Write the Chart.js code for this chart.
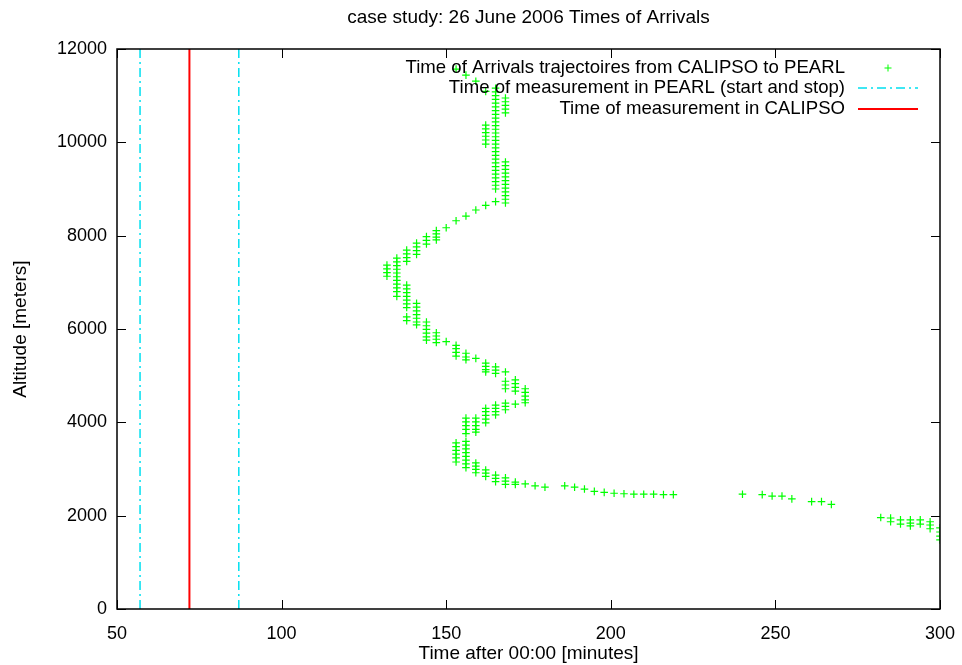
<!DOCTYPE html>
<html>
<head>
<meta charset="utf-8">
<script src="https://cdn.jsdelivr.net/npm/chart.js@4/dist/chart.umd.min.js"></script>
<style>
  html, body { margin: 0; padding: 0; background: #ffffff; overflow: hidden; }
  #wrap { width: 962px; height: 665px; }
</style>
</head>
<body>
<div id="wrap"><canvas id="c" width="962" height="665"></canvas></div>
<script>
// Text
const chartTitle = 'case study: 26 June 2006 Times of Arrivals';
const xAxisTitle = 'Time after 00:00 [minutes]';
const yAxisTitle = 'Altitude [meters]';
const seriesLabels = [
  'Time of Arrivals trajectoires from CALIPSO to PEARL',
  'Time of measurement in PEARL (start and stop)',
  'Time of measurement in CALIPSO'
];

// Axis ticks
const xTicks = [50, 100, 150, 200, 250, 300];
const yTicks = [0, 2000, 4000, 6000, 8000, 10000, 12000];

// Measurement times [minutes after 00:00]
const pearlStartStop = [57, 87];
const calipsoTime = 72;

// Arrival time of each trajectory group [minutes] and the altitudes [m] arriving then
const arrivalTimes = [
  153, 156, 159, 162, 165, 168, 162, 168, 162, 159, 156, 153, 150,
  147, 144, 141, 138, 135, 132, 138, 141, 138, 144, 147, 150, 153, 156, 159,
  162, 165, 168, 168, 171, 174, 171, 168, 165, 162, 159, 156, 156, 153,
  159, 162, 165, 168, 171, 174, 177, 180,
  186, 189, 192, 195, 198, 201, 204, 207, 210, 213, 216, 219,
  240, 246, 249, 252, 255, 261, 264, 267,
  282, 285, 288, 291, 294, 297, 300
];
const arrivalAltitudes = [
  [11570], [11440], [11310], [11090],
  [11160, 11080, 11000, 10920, 10840, 10760, 10680, 10600, 10520, 10440, 10360, 10280, 10200,
   10120, 10040, 9960, 9880, 9800, 9720, 9640, 9560, 9480, 9400, 9320, 9240, 9160, 9080, 9000, 8730],
  [10950, 10870, 10790, 10710, 10630],
  [10370, 10290, 10210, 10130, 10050, 9960],
  [9580, 9500, 9420, 9340, 9260, 9180, 9100, 9020, 8940, 8860, 8780, 8700],
  [8650], [8550], [8420], [8320], [8170],
  [8110, 8040, 7970, 7910],
  [7980, 7900, 7820],
  [7840, 7760, 7680, 7600],
  [7690, 7610, 7530, 7450],
  [7520, 7440, 7360, 7280, 7200, 7120, 7040, 6960, 6880, 6800, 6700],
  [7370, 7290, 7210, 7130],
  [6940, 6860, 6780, 6700, 6620, 6540, 6460],
  [6550, 6470, 6390, 6310, 6230, 6150, 6090],
  [6260, 6180],
  [6150, 6070, 5990, 5910, 5830, 5760],
  [5920, 5850, 5780, 5710],
  [5730],
  [5650, 5580, 5500, 5420],
  [5480, 5400, 5340],
  [5370],
  [5270, 5200, 5130, 5080],
  [5190, 5120, 5050],
  [5080],
  [4880, 4800, 4720],
  [4910, 4830, 4750, 4670],
  [4720, 4640, 4560, 4480, 4420],
  [4390],
  [4410, 4340, 4270],
  [4370, 4300, 4230, 4160],
  [4300, 4230, 4150, 4070, 3990],
  [4090, 4010, 3930, 3850, 3790],
  [4090, 4010, 3930, 3850, 3760],
  [3590, 3510, 3430, 3350, 3270, 3190, 3110, 3030],
  [3560, 3480, 3400, 3320, 3240, 3150],
  [3130, 3060, 2990, 2920],
  [2980, 2910, 2840],
  [2870, 2800, 2730],
  [2810, 2740, 2670],
  [2720, 2670],
  [2680], [2640], [2610],
  [2640], [2610], [2570], [2520], [2500], [2480], [2470], [2460], [2460], [2460], [2450], [2450],
  [2460], [2450], [2420], [2420], [2360], [2300], [2300], [2240],
  [1960],
  [1950, 1870],
  [1910, 1820],
  [1910, 1840, 1780],
  [1910, 1820],
  [1870, 1800, 1720],
  [1740, 1650, 1560, 1480]
];

// Colours
const arrivalColor = '#00ff00';
const pearlColor = '#00e0f0';
const calipsoColor = '#ff0000';
const pearlDash = [9, 4, 2, 4];

const FONT = 'Liberation Sans, Arial, Helvetica, sans-serif';
const TICK_SIZE = 18;
const TEXT_SIZE = 19;
const KEY_SIZE = 18.6;

const arrivalPoints = [];
arrivalTimes.forEach((t, i) => {
  arrivalAltitudes[i].forEach(a => arrivalPoints.push({ x: t, y: a }));
});

function verticalLine(x) {
  return [{ x: x, y: yTicks[0] }, { x: x, y: yTicks[yTicks.length - 1] }];
}

// Frame, inward ticks on all four sides, title and key, in the gnuplot manner
const framePlugin = {
  id: 'frame',
  afterDraw(chart) {
    const { ctx, chartArea: a, scales } = chart;
    const tick = 9;
    ctx.save();
    ctx.strokeStyle = '#000000';
    ctx.lineWidth = 1;
    ctx.beginPath();
    xTicks.forEach(v => {
      const px = Math.round(scales.x.getPixelForValue(v)) + 0.5;
      ctx.moveTo(px, a.bottom); ctx.lineTo(px, a.bottom - tick);
      ctx.moveTo(px, a.top); ctx.lineTo(px, a.top + tick);
    });
    yTicks.forEach(v => {
      const py = Math.round(scales.y.getPixelForValue(v)) + 0.5;
      ctx.moveTo(a.left, py); ctx.lineTo(a.left + tick, py);
      ctx.moveTo(a.right, py); ctx.lineTo(a.right - tick, py);
    });
    ctx.stroke();
    ctx.lineWidth = 1.5;
    ctx.strokeRect(a.left, a.top, a.right - a.left, a.bottom - a.top);

    // title
    ctx.fillStyle = '#000000';
    ctx.font = TEXT_SIZE + 'px ' + FONT;
    ctx.textAlign = 'center';
    ctx.textBaseline = 'middle';
    ctx.fillText(chartTitle, (a.left + a.right) / 2, 18);

    // key
    ctx.font = KEY_SIZE + 'px ' + FONT;
    const textRight = 845;
    const sampleL = 858, sampleR = 918;
    const rows = [68, 88, 109];
    ctx.textAlign = 'right';
    rows.forEach((y, i) => ctx.fillText(seriesLabels[i], textRight, y));

    ctx.strokeStyle = arrivalColor;
    ctx.lineWidth = 1;
    ctx.beginPath();
    const cx = (sampleL + sampleR) / 2, r = 3.5;
    ctx.moveTo(cx - r, rows[0]); ctx.lineTo(cx + r, rows[0]);
    ctx.moveTo(cx, rows[0] - r); ctx.lineTo(cx, rows[0] + r);
    ctx.stroke();

    ctx.strokeStyle = pearlColor;
    ctx.lineWidth = 1.5;
    ctx.setLineDash(pearlDash);
    ctx.beginPath();
    ctx.moveTo(sampleL, rows[1]); ctx.lineTo(sampleR, rows[1]);
    ctx.stroke();
    ctx.setLineDash([]);

    ctx.strokeStyle = calipsoColor;
    ctx.lineWidth = 2;
    ctx.beginPath();
    ctx.moveTo(sampleL, rows[2]); ctx.lineTo(sampleR, rows[2]);
    ctx.stroke();
    ctx.restore();
  }
};

new Chart(document.getElementById('c'), {
  type: 'scatter',
  data: {
    datasets: [
      {
        label: seriesLabels[0],
        data: arrivalPoints,
        pointStyle: 'cross',
        pointRadius: 3.8,
        pointBorderWidth: 1.2,
        borderColor: arrivalColor,
        backgroundColor: arrivalColor,
        showLine: false
      },
      {
        label: seriesLabels[1],
        type: 'line',
        data: verticalLine(pearlStartStop[0]),
        borderColor: pearlColor,
        borderWidth: 1.5,
        borderDash: pearlDash,
        pointRadius: 0
      },
      {
        label: seriesLabels[1],
        type: 'line',
        data: verticalLine(pearlStartStop[1]),
        borderColor: pearlColor,
        borderWidth: 1.5,
        borderDash: pearlDash,
        pointRadius: 0
      },
      {
        label: seriesLabels[2],
        type: 'line',
        data: verticalLine(calipsoTime),
        borderColor: calipsoColor,
        borderWidth: 2,
        pointRadius: 0
      }
    ]
  },
  options: {
    responsive: false,
    animation: false,
    events: [],
    layout: { padding: { top: 49, right: 22, bottom: 0, left: 0 } },
    plugins: {
      legend: { display: false },
      title: { display: false },
      tooltip: { enabled: false }
    },
    scales: {
      x: {
        type: 'linear',
        min: xTicks[0],
        max: xTicks[xTicks.length - 1],
        afterBuildTicks: s => { s.ticks = xTicks.map(v => ({ value: v })); },
        afterFit: s => { s.height = 56; s.paddingLeft = 0; s.paddingRight = 0; },
        grid: { display: false, drawTicks: false },
        border: { display: false },
        ticks: { color: '#000000', padding: 14, maxRotation: 0, callback: v => String(v), font: { family: FONT, size: TICK_SIZE } },
        title: { display: true, text: xAxisTitle, color: '#000000', padding: 0, font: { family: FONT, size: TEXT_SIZE } }
      },
      y: {
        type: 'linear',
        min: yTicks[0],
        max: yTicks[yTicks.length - 1],
        afterBuildTicks: s => { s.ticks = yTicks.map(v => ({ value: v })); },
        afterFit: s => { s.width = 117; s.paddingTop = 0; s.paddingBottom = 0; },
        grid: { display: false, drawTicks: false },
        border: { display: false },
        ticks: { color: '#000000', padding: 10, callback: v => String(v), font: { family: FONT, size: TICK_SIZE } },
        title: { display: true, text: yAxisTitle, color: '#000000', padding: { top: 9, bottom: 0 }, font: { family: FONT, size: TEXT_SIZE } }
      }
    }
  },
  plugins: [framePlugin]
});
</script>
</body>
</html>
